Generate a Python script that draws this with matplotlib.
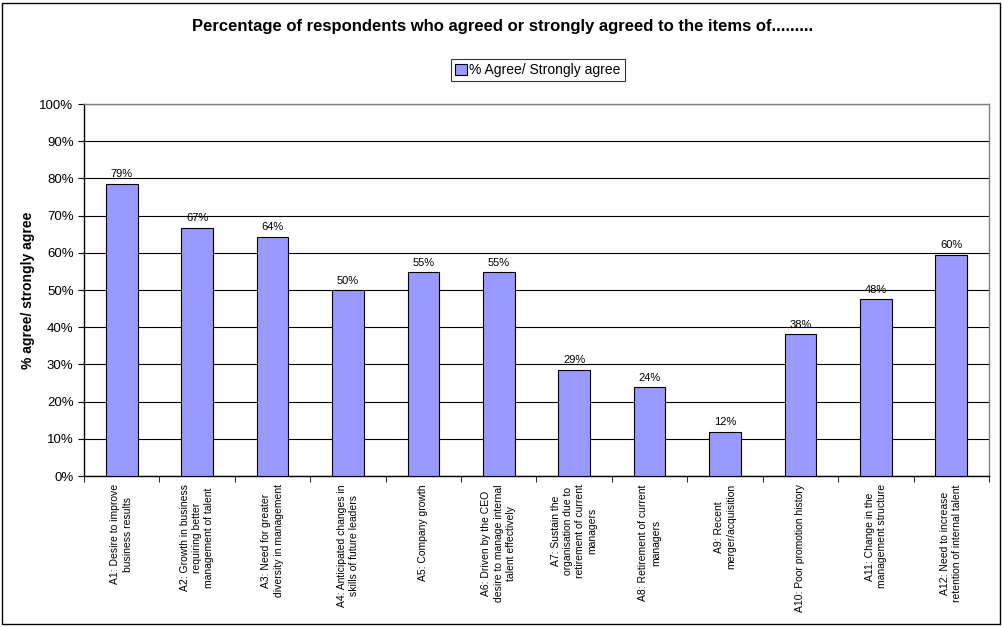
import matplotlib
matplotlib.use("Agg")
import matplotlib.pyplot as plt
import numpy as np
from matplotlib.ticker import PercentFormatter
from matplotlib.patches import Rectangle

plt.rcParams['font.family'] = ['Liberation Sans', 'DejaVu Sans']

# ------------------ Data ------------------
categories = [
    "A1: Desire to improve\nbusiness results",
    "A2: Growth in business\nrequiring better\nmanagement of talent",
    "A3: Need for greater\ndiversity in management",
    "A4: Anticipated changes in\nskills of future leaders",
    "A5: Company growth",
    "A6: Driven by the CEO\ndesire to manage internal\ntalent effectively",
    "A7: Sustain the\norganisation due to\nretirement of current\nmanagers",
    "A8: Retirement of current\nmanagers",
    "A9: Recent\nmerger/acquisition",
    "A10: Poor promotion history",
    "A11: Change in the\nmanagement structure",
    "A12: Need to increase\nretention of internal talent",
]
agree_pct = [78.6, 66.7, 64.3, 50.0, 54.8, 54.8, 28.6, 23.8, 11.9, 38.1, 47.6, 59.5]
bar_labels = ["79%", "67%", "64%", "50%", "55%", "55%", "29%", "24%", "12%", "38%", "48%", "60%"]

# ------------------ Plot ------------------
fig = plt.figure(figsize=(10.02, 6.27), dpi=100)
ax = fig.add_axes([0.0838, 0.2408, 0.9032, 0.5932])

x = np.arange(len(categories))
bars = ax.bar(x, agree_pct, width=0.42, color="#9999FF", edgecolor="black",
              linewidth=0.8, label="% Agree/ Strongly agree", zorder=3)

for rect, lab in zip(bars, bar_labels):
    ax.text(rect.get_x() + rect.get_width() / 2, rect.get_height() + 1.2, lab,
            ha="center", va="bottom", fontsize=8, zorder=4)

ax.set_xlim(-0.5, len(categories) - 0.5)
ax.set_ylim(0, 100)
ax.set_yticks(np.arange(0, 101, 10))
ax.yaxis.set_major_formatter(PercentFormatter(decimals=0))
ax.grid(axis="y", color="black", linewidth=0.8, zorder=0)

ax.set_xticks(x)
ax.set_xticklabels(categories, rotation=90, fontsize=7.45, ha="center",
                   va="top", multialignment="center", linespacing=1.3)
ax.tick_params(axis="x", length=0, pad=6)
ax.set_xticks(np.arange(-0.5, len(categories), 1), minor=True)
ax.tick_params(axis="x", which="minor", length=4, direction="out", color="black")
ax.tick_params(axis="y", length=4, direction="out", labelsize=9.5)

ax.spines["left"].set_color("black")
ax.spines["bottom"].set_color("black")
ax.spines["top"].set_color("#808080")
ax.spines["right"].set_color("#808080")
for s in ax.spines.values():
    s.set_linewidth(1.0)

ax.set_ylabel("% agree/ strongly agree", fontsize=10, fontweight="bold")
ax.yaxis.set_label_coords(-0.054, 0.5)

fig.text(0.502, 0.957, "Percentage of respondents who agreed or strongly agreed to the items of.........",
         ha="center", va="center", fontsize=12, fontweight="bold")

leg = fig.legend(loc="center", bbox_to_anchor=(0.537, 0.888), fontsize=10,
                 frameon=True, fancybox=False, edgecolor="black",
                 handlelength=0.8, handleheight=0.8, handletextpad=0.2,
                 borderpad=0.3, borderaxespad=0)
leg.get_frame().set_linewidth(0.8)

fig.patches.append(Rectangle((0.002, 0.004), 0.996, 0.992, transform=fig.transFigure,
                             fill=False, edgecolor="black", linewidth=1.0))

fig.savefig("out.png", dpi=100)
